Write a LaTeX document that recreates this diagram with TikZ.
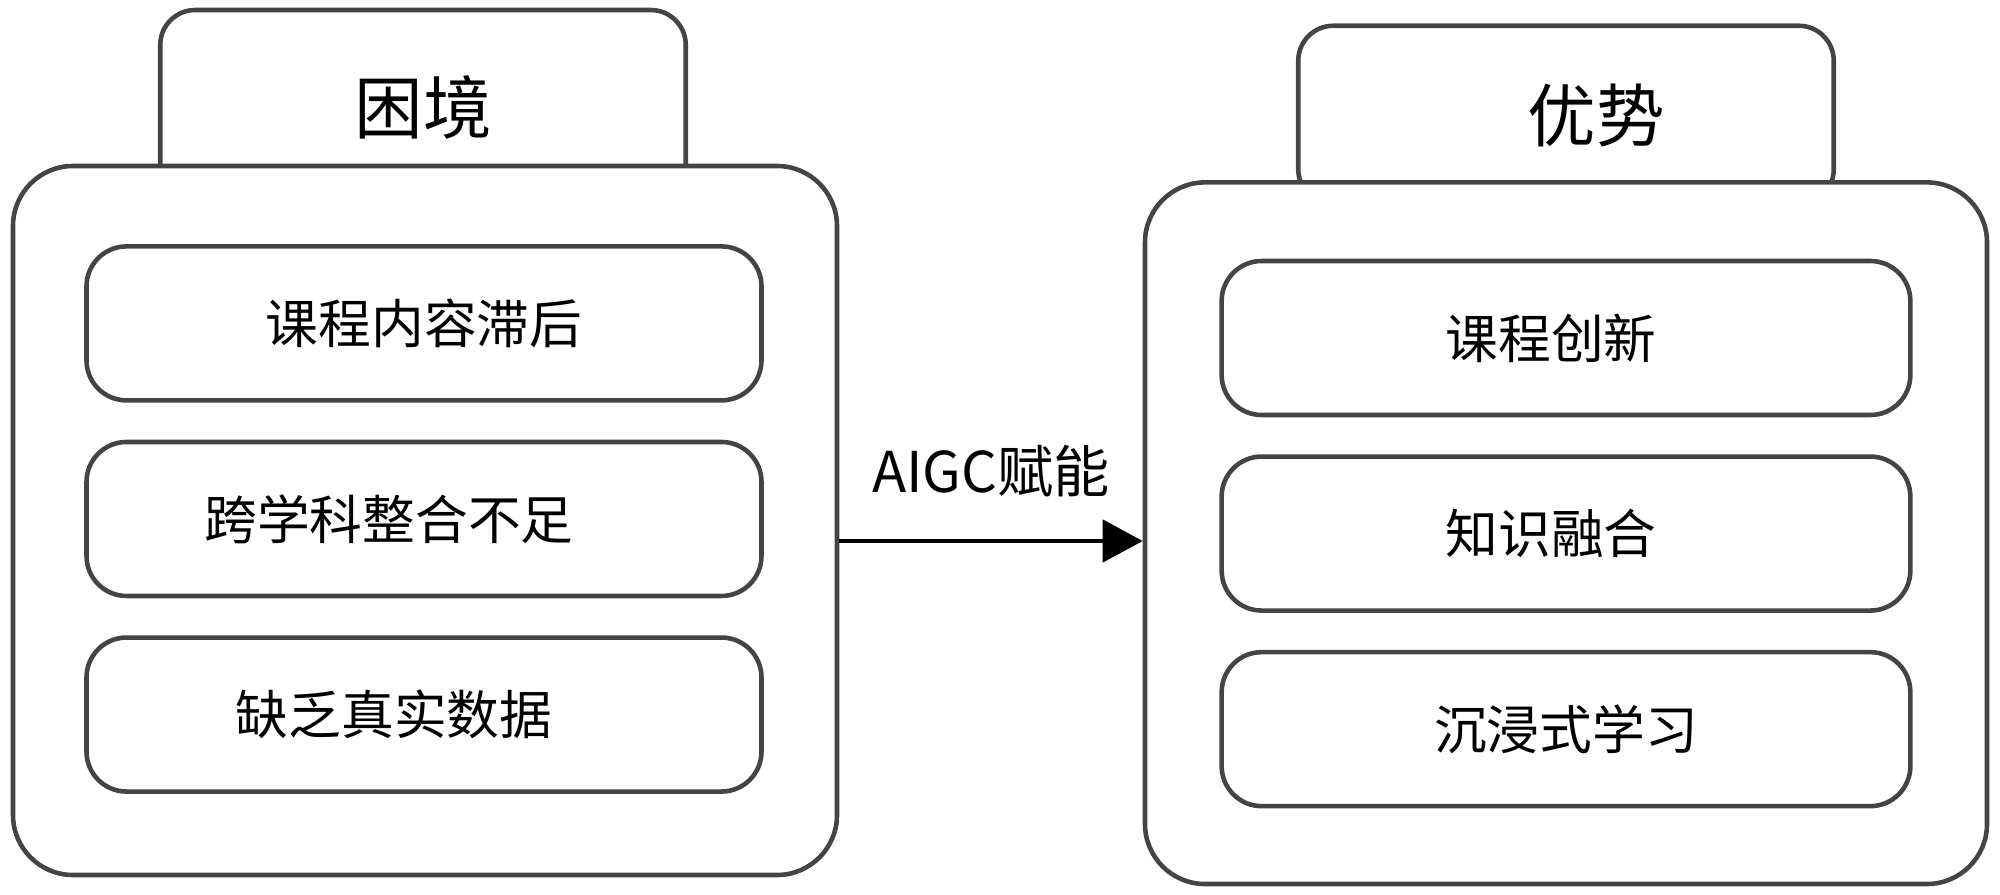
\documentclass[tikz,border=0pt]{standalone}
\usepackage{fontspec}
\setmainfont{Noto Sans CJK SC}
\usepackage{tikz}
\usetikzlibrary{arrows.meta, positioning}
\definecolor{edge}{HTML}{444444}

\begin{document}
\begin{tikzpicture}[
    font=\fontsize{15}{18}\selectfont,
    panel/.style={draw=edge, line width=1.3pt, fill=white, rounded corners=6mm,
                  inner sep=0pt},
    tab/.style={panel, rounded corners=3.5mm, font=\fontsize{19.5}{23}\selectfont},
    item/.style={panel, rounded corners=4mm, minimum height=1.54cm},
    arr/.style={-{Triangle[length=4mm, width=4.2mm]}, line width=1.3pt},
  ]
  \useasboundingbox (0,0) rectangle (20,8.94);

  % left: dilemma (tab first, panel covers its lower part)
  \node[tab, minimum width=5.255cm, minimum height=1.94cm] (dtab) at (4.23,7.87) {困境};
  \node[panel, minimum width=8.24cm, minimum height=7.09cm] (dpanel) at (4.25,3.735) {};
  \node[item, minimum width=6.75cm] (d1) at (4.24,5.706) {课程内容滞后};
  \node[item, minimum width=6.75cm, below=0.37cm of d1] (d2) {\hspace*{-7mm}跨学科整合不足};
  \node[item, minimum width=6.75cm, below=0.37cm of d2] (d3) {\hspace*{-6mm}缺乏真实数据};

  % right: advantage
  \node[tab, minimum width=5.355cm, minimum height=1.785cm] (atab) at (15.66,7.79) {\hspace*{6mm}优势};
  \node[panel, minimum width=8.42cm, minimum height=7.016cm] (apanel) at (15.66,3.608) {};
  \node[item, minimum width=6.887cm] (a1) at (15.66,5.56) {\hspace*{-3mm}课程创新};
  \node[item, minimum width=6.887cm, below=0.37cm of a1] (a2) {\hspace*{-3mm}知识融合};
  \node[item, minimum width=6.887cm, below=0.37cm of a2] (a3) {沉浸式学习};

  % connector
  \coordinate (mid) at (0,3.53);
  \draw[arr] (dpanel.east |- mid) -- node[above=3mm, font=\fontsize{16}{19}\selectfont] (lbl) {AIGC赋能} (apanel.west |- mid);
\end{tikzpicture}
\end{document}
